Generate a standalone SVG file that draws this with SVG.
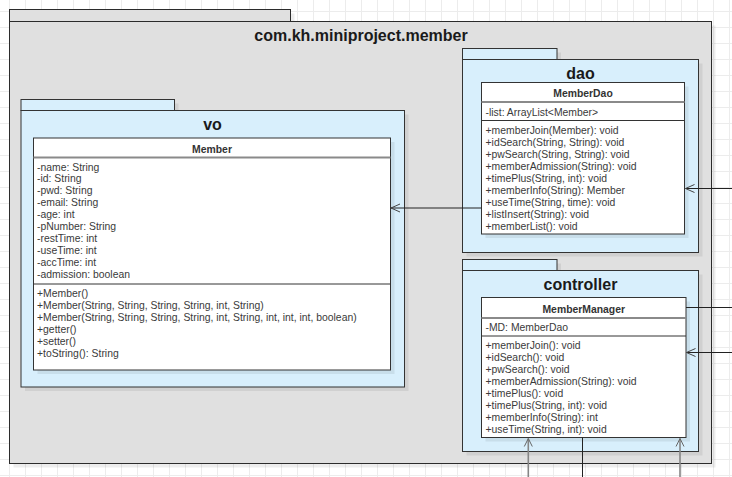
<svg xmlns="http://www.w3.org/2000/svg" width="732" height="477" viewBox="0 0 732 477">
<defs>
<pattern id="grid" x="9" y="11" width="16" height="16" patternUnits="userSpaceOnUse">
<path d="M0 0.5H16M0.5 0V16" fill="none" stroke="#ececec" stroke-width="1"/>
</pattern>
<marker id="open" viewBox="-10 -5 11 10" markerWidth="11" markerHeight="10" refX="0" refY="0" markerUnits="userSpaceOnUse" orient="auto" overflow="visible">
<path d="M-9,-4 L0,0 L-9,4" fill="none" stroke="#444" stroke-width="1"/>
</marker>
<marker id="openGrey" viewBox="-10 -5 11 10" markerWidth="11" markerHeight="10" refX="0" refY="0" markerUnits="userSpaceOnUse" orient="auto" overflow="visible">
<path d="M-8,-4 L0,0 L-8,4" fill="none" stroke="#666" stroke-width="1"/>
</marker>
</defs>
<style>
text{font-family:"Liberation Sans",Arial,Helvetica,sans-serif;}
.shadow{fill:#000;opacity:0.07;}
.outer{fill:#e0e0e0;stroke:#2b2b2b;stroke-width:1;}
.pkg{fill:#d8effc;stroke:#333;stroke-width:1;}
.cls{fill:#fff;stroke:#333;stroke-width:1;}
.hsep{stroke:#8a8a8a;stroke-width:2;}
.sep{stroke:#333;stroke-width:1;}
.ptitle{font-size:16px;font-weight:bold;fill:#1a1a1a;text-anchor:middle;}
.cname{font-size:10.4px;font-weight:bold;fill:#333;text-anchor:middle;}
.mem{font-size:10.4px;fill:#3a3a3a;}
.conn{fill:none;stroke:#222;stroke-width:1;}
.connG{fill:none;stroke:#858585;stroke-width:1.6;}
</style>
<rect width="732" height="477" fill="#fff"/>
<rect width="732" height="477" fill="url(#grid)"/>

<g id="pkg-member">
<rect class="shadow" x="13.5" y="13.5" width="281" height="12"/>
<rect class="shadow" x="13.5" y="25.5" width="702" height="442"/>
<rect class="outer" x="9.5" y="9.5" width="281" height="12"/>
<rect class="outer" x="9.5" y="21.5" width="702" height="442"/>
<text class="ptitle" x="361" y="41">com.kh.miniproject.member</text>
</g>

<g id="pkg-vo">
<rect class="shadow" x="25" y="103.5" width="153.5" height="11"/>
<rect class="shadow" x="25" y="114.5" width="383.5" height="276.5"/>
<rect class="pkg" x="21" y="99.5" width="153.5" height="11"/>
<rect class="pkg" x="21" y="110.5" width="383.5" height="276.5"/>
<text class="ptitle" x="212.5" y="130">vo</text>
</g>

<g id="pkg-dao">
<rect class="shadow" x="466.5" y="52.5" width="94.5" height="11"/>
<rect class="shadow" x="466.5" y="63.5" width="236" height="193"/>
<rect class="pkg" x="462.5" y="48.5" width="94.5" height="11"/>
<rect class="pkg" x="462.5" y="59.5" width="236" height="193"/>
<text class="ptitle" x="580.5" y="79">dao</text>
</g>

<g id="pkg-controller">
<rect class="shadow" x="466.5" y="263.5" width="94.5" height="11"/>
<rect class="shadow" x="466.5" y="274.5" width="236" height="181"/>
<rect class="pkg" x="462.5" y="259.5" width="94.5" height="11"/>
<rect class="pkg" x="462.5" y="270.5" width="236" height="181"/>
<text class="ptitle" x="580.5" y="290">controller</text>
</g>

<g id="class-Member">
<rect class="shadow" x="37.5" y="142" width="357" height="232"/>
<rect class="cls" x="33.5" y="138" width="357" height="232"/>
<line class="hsep" x1="33.5" y1="157.5" x2="390.5" y2="157.5"/>
<line class="sep" x1="33.5" y1="284" x2="390.5" y2="284"/>
<text class="cname" x="212" y="152.5">Member</text>
<text class="mem" x="37" y="170.5">-name: String</text>
<text class="mem" x="37" y="182.4">-id: String</text>
<text class="mem" x="37" y="194.3">-pwd: String</text>
<text class="mem" x="37" y="206.2">-email: String</text>
<text class="mem" x="37" y="218.1">-age: int</text>
<text class="mem" x="37" y="230">-pNumber: String</text>
<text class="mem" x="37" y="241.9">-restTime: int</text>
<text class="mem" x="37" y="253.8">-useTime: int</text>
<text class="mem" x="37" y="265.7">-accTime: int</text>
<text class="mem" x="37" y="277.6">-admission: boolean</text>
<text class="mem" x="37" y="297">+Member()</text>
<text class="mem" x="37" y="309">+Member(String, String, String, String, int, String)</text>
<text class="mem" x="37" y="321">+Member(String, String, String, String, int, String, int, int, int, boolean)</text>
<text class="mem" x="37" y="333">+getter()</text>
<text class="mem" x="37" y="345">+setter()</text>
<text class="mem" x="37" y="357">+toString(): String</text>
</g>

<g id="class-MemberDao">
<rect class="shadow" x="485.5" y="86.5" width="203" height="151.5"/>
<rect class="cls" x="481.5" y="82.5" width="203" height="151.5"/>
<line class="hsep" x1="481.5" y1="102" x2="684.5" y2="102"/>
<line class="sep" x1="481.5" y1="120.5" x2="684.5" y2="120.5"/>
<text class="cname" x="583" y="96.5">MemberDao</text>
<text class="mem" x="485.5" y="115.5">-list: ArrayList&lt;Member&gt;</text>
<text class="mem" x="485.5" y="134">+memberJoin(Member): void</text>
<text class="mem" x="485.5" y="145.9">+idSearch(String, String): void</text>
<text class="mem" x="485.5" y="157.9">+pwSearch(String, String): void</text>
<text class="mem" x="485.5" y="169.8">+memberAdmission(String): void</text>
<text class="mem" x="485.5" y="181.8">+timePlus(String, int): void</text>
<text class="mem" x="485.5" y="193.7">+memberInfo(String): Member</text>
<text class="mem" x="485.5" y="205.6">+useTime(String, time): void</text>
<text class="mem" x="485.5" y="217.6">+listInsert(String): void</text>
<text class="mem" x="485.5" y="229.5">+memberList(): void</text>
</g>

<g id="class-MemberManager">
<rect class="shadow" x="485.5" y="301.5" width="204.5" height="140"/>
<rect class="cls" x="481.5" y="297.5" width="204.5" height="140"/>
<line class="hsep" x1="481.5" y1="318" x2="686" y2="318"/>
<line class="sep" x1="481.5" y1="336" x2="686" y2="336"/>
<text class="cname" x="583.75" y="312.5">MemberManager</text>
<text class="mem" x="485.5" y="331">-MD: MemberDao</text>
<text class="mem" x="485.5" y="349">+memberJoin(): void</text>
<text class="mem" x="485.5" y="361">+idSearch(): void</text>
<text class="mem" x="485.5" y="373">+pwSearch(): void</text>
<text class="mem" x="485.5" y="385">+memberAdmission(String): void</text>
<text class="mem" x="485.5" y="397">+timePlus(): void</text>
<text class="mem" x="485.5" y="409">+timePlus(String, int): void</text>
<text class="mem" x="485.5" y="421">+memberInfo(String): int</text>
<text class="mem" x="485.5" y="433">+useTime(String, int): void</text>
</g>

<g id="connectors">
<line class="conn" x1="481.5" y1="208" x2="391" y2="208" marker-end="url(#open)"/>
<line class="conn" x1="732" y1="188.5" x2="685.5" y2="188.5" marker-end="url(#open)"/>
<line class="conn" x1="686" y1="307.5" x2="732" y2="307.5"/>
<line class="conn" x1="732" y1="352.5" x2="686.5" y2="352.5" marker-end="url(#open)"/>
<line class="connG" x1="528.3" y1="477" x2="528.3" y2="438.5" marker-end="url(#openGrey)"/>
<line class="conn" x1="582.5" y1="437.5" x2="582.5" y2="477"/>
<line class="connG" x1="680" y1="477" x2="680" y2="438.5" marker-end="url(#openGrey)"/>
</g>
</svg>
